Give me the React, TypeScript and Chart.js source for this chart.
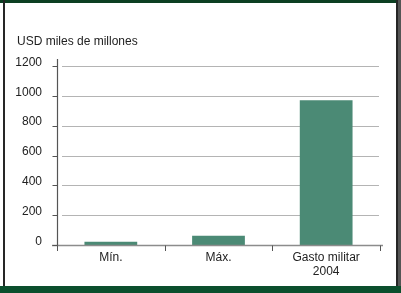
import React, { useEffect, useRef } from "react";
import { Chart, registerables } from "chart.js";

Chart.register(...registerables);

const categories: (string | string[])[] = ["Mín.", "Máx.", ["Gasto militar", "2004"]];
const values: number[] = [22, 62, 970];
const yTicks: number[] = [0, 200, 400, 600, 800, 1000, 1200];
const unitLabel = "USD miles de millones";

const FONT = "'Liberation Sans', Arial, Helvetica, sans-serif";

const decor = {
  id: "decor",
  beforeDraw(chart: any) {
    const ctx = chart.ctx;
    ctx.save();
    ctx.fillStyle = "#ffffff";
    ctx.fillRect(0, 0, chart.width, chart.height);
    // frame
    ctx.fillStyle = "#0c3f22";
    ctx.fillRect(0, 0, 401, 3);
    ctx.fillStyle = "#262626";
    ctx.fillRect(3, 0, 2, 293);
    ctx.fillRect(396, 0, 2, 293);
    ctx.fillStyle = "#555555";
    ctx.fillRect(398, 0, 3, 293);
    ctx.fillStyle = "#0b4f2d";
    ctx.fillRect(0, 286, 401, 7);
    // title
    ctx.fillStyle = "#222222";
    ctx.font = `12px ${FONT}`;
    ctx.textBaseline = "alphabetic";
    ctx.textAlign = "left";
    ctx.fillText(unitLabel, 17, 45);
    ctx.restore();
  },
  beforeDatasetsDraw(chart: any) {
    const ctx = chart.ctx;
    const y = chart.scales.y;
    const area = chart.chartArea;
    ctx.save();
    // gridlines
    ctx.strokeStyle = "#b4b4b4";
    ctx.lineWidth = 1;
    for (const v of yTicks) {
      if (v === 0) continue;
      const py = Math.round(y.getPixelForValue(v)) + 0.5;
      ctx.beginPath();
      ctx.moveTo(area.left + 5, py);
      ctx.lineTo(area.right - 1, py);
      ctx.stroke();
    }
    ctx.restore();
  },
  afterDatasetsDraw(chart: any) {
    const ctx = chart.ctx;
    const y = chart.scales.y;
    const x = chart.scales.x;
    const area = chart.chartArea;
    ctx.save();
    const ax = Math.round(area.left) + 0.5;
    const by = Math.round(y.getPixelForValue(0)) + 0.5;
    // x axis line
    ctx.strokeStyle = "#8c8c8c";
    ctx.lineWidth = 1.5;
    ctx.beginPath();
    ctx.moveTo(area.left - 5, by);
    ctx.lineTo(area.right + 3, by);
    ctx.stroke();
    // x ticks at category boundaries
    ctx.strokeStyle = "#555555";
    ctx.lineWidth = 1;
    const n = categories.length;
    const step = x.getPixelForValue(1) - x.getPixelForValue(0);
    for (let i = 0; i <= n; i++) {
      const px = x.getPixelForValue(0) - step / 2 + i * step;
      const rx = Math.round(px) + 0.5;
      ctx.beginPath();
      ctx.moveTo(rx, by);
      ctx.lineTo(rx, by + 5.5);
      ctx.stroke();
    }
    // y axis line
    ctx.strokeStyle = "#555555";
    ctx.lineWidth = 1.2;
    ctx.beginPath();
    ctx.moveTo(ax, y.getPixelForValue(1200) - 7);
    ctx.lineTo(ax, by);
    ctx.stroke();
    // y ticks
    ctx.lineWidth = 1;
    for (const v of yTicks) {
      const py = Math.round(y.getPixelForValue(v)) + 0.5;
      ctx.beginPath();
      ctx.moveTo(ax - 5, py);
      ctx.lineTo(ax, py);
      ctx.stroke();
    }
    ctx.restore();
  },
};

export default function App() {
  const ref = useRef<HTMLCanvasElement | null>(null);
  useEffect(() => {
    if (!ref.current) return;
    const chart = new Chart(ref.current, {
      type: "bar",
      data: {
        labels: categories as any,
        datasets: [
          {
            data: values,
            backgroundColor: "#4b8a75",
            borderWidth: 0,
            barPercentage: 1,
            categoryPercentage: 0.49,
          },
        ],
      },
      options: {
        animation: false,
        responsive: false,
        devicePixelRatio: 1,
        layout: { padding: { left: 0, top: 66, right: 21, bottom: 0 } },
        plugins: {
          legend: { display: false },
          tooltip: { enabled: false },
          title: { display: false },
        },
        scales: {
          x: {
            grid: { display: false, drawTicks: false },
            border: { display: false },
            ticks: {
              color: "#222222",
              font: { family: FONT, size: 12 },
              padding: 5,
              maxRotation: 0,
              autoSkip: false,
            },
            afterFit(scale: any) {
              scale.height = 48;
            },
          },
          y: {
            min: 0,
            max: 1200,
            grid: { display: false, drawTicks: false },
            border: { display: false },
            afterBuildTicks(scale: any) {
              scale.ticks = yTicks.map((v) => ({ value: v }));
            },
            ticks: {
              color: "#222222",
              font: { family: FONT, size: 12 },
              padding: 15,
              labelOffset: -3.5,
              callback: (v: any) => String(v),
            },
            afterFit(scale: any) {
              scale.width = 57;
            },
          },
        },
      },
      plugins: [decor],
    });
    return () => chart.destroy();
  }, []);
  return (
    <div style={{ position: "absolute", left: 0, top: 0, width: 401, height: 293 }}>
      <canvas ref={ref} width={401} height={293} style={{ display: "block" }} />
    </div>
  );
}
